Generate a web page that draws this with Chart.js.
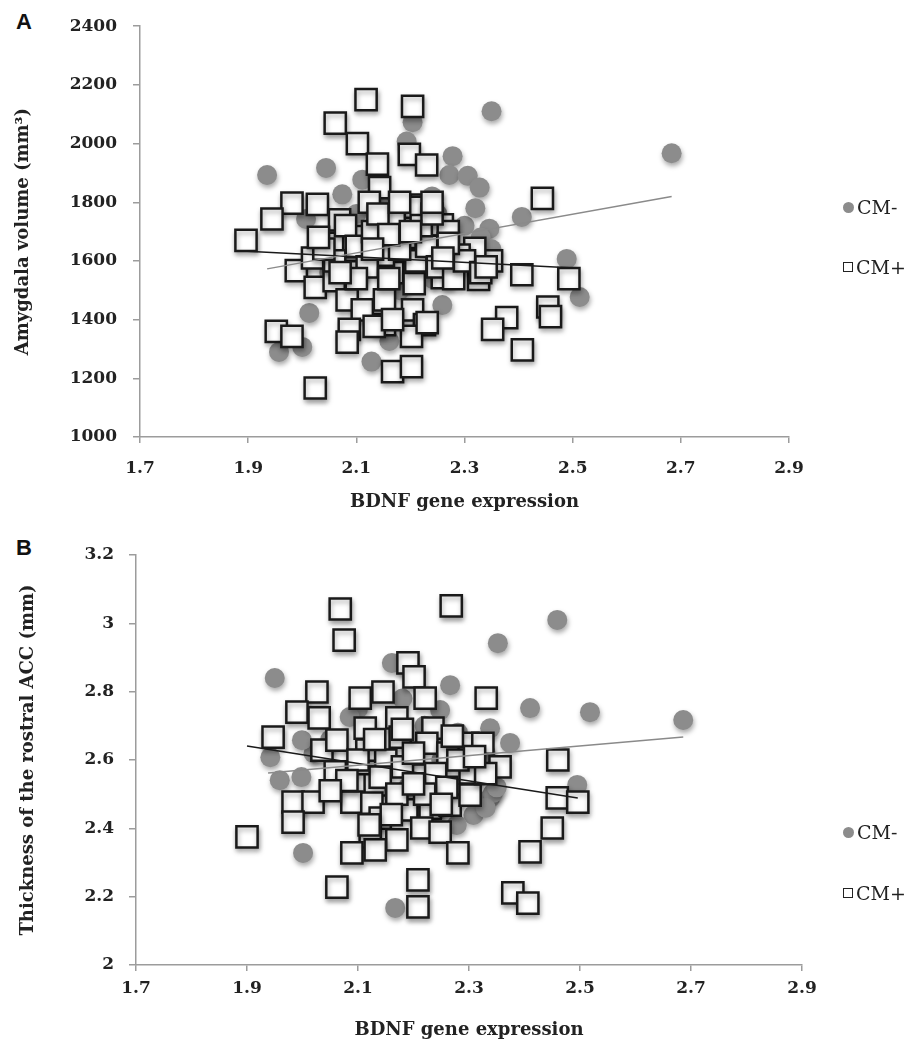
<!DOCTYPE html>
<html>
<head>
<meta charset="utf-8">
<script src="https://cdn.jsdelivr.net/npm/chart.js@4.4.1/dist/chart.umd.min.js"></script>
<style>
  html, body { margin: 0; padding: 0; background: #fff; }
  body { width: 904px; height: 1045px; position: relative; overflow: hidden; }
  canvas { position: absolute; left: 0; }
  #chartA { top: 0; }
  #chartB { top: 520px; }
  .panel { position: absolute; left: 16px; font: bold 22px "Liberation Sans", Arial, sans-serif; color: #111; line-height: 24px; }
  .legend-item { position: absolute; left: 843px; height: 24px; display: flex; align-items: center;
                 font: 19px "DejaVu Serif", serif; color: #222; white-space: nowrap; }
  .dot { width: 11px; height: 11px; border-radius: 50%; background: #8c8c8c; margin-right: 3px; }
  .box { width: 8px; height: 8px; border: 1.5px solid #222; background: #fff; margin-right: 3px; }
</style>
</head>
<body>
<div class="panel" style="top:10px">A</div>
<div class="panel" style="top:536px">B</div>
<canvas id="chartA" width="904" height="520"></canvas>
<canvas id="chartB" width="904" height="525"></canvas>
<div id="legendA"></div>
<div id="legendB"></div>
<script>
const groups = ['CM-', 'CM+'];
const xTicks = [1.7, 1.9, 2.1, 2.3, 2.5, 2.7, 2.9];

// panel A: amygdala volume
const amyTicks = [1000, 1200, 1400, 1600, 1800, 2000, 2200, 2400];
const amyPlusX = [
  2.118, 2.204, 2.061, 2.102, 2.198, 2.139, 2.230, 1.981, 2.028, 1.944,
  1.896, 2.444, 2.406, 2.493, 2.454, 2.459, 2.378, 2.352, 2.407, 2.167,
  2.207, 2.259, 2.326, 2.350, 2.319, 2.259, 2.220, 2.204, 2.226, 2.202,
  2.167, 2.202, 2.152, 1.989, 2.024, 2.098, 2.059, 2.083, 2.111, 2.152,
  1.952, 1.981, 2.087, 2.083, 2.133, 2.167, 2.231, 2.024, 2.143, 2.124,
  2.069, 2.111, 2.056, 2.019, 2.204, 2.080, 2.100, 2.130, 2.150, 2.170,
  2.190, 2.210, 2.230, 2.250, 2.270, 2.290, 2.120, 2.160, 2.180, 2.220,
  2.240, 2.060, 2.040, 2.280, 2.300, 2.140, 2.180, 2.100, 2.330, 2.340,
  2.240, 2.160, 2.270, 2.030, 2.200, 2.260, 2.130, 2.070
];
const amyPlusY = [
  2150, 2127, 2070, 2000, 1963, 1930, 1927, 1797, 1793, 1743,
  1670, 1813, 1553, 1540, 1443, 1410, 1407, 1367, 1297, 1560,
  1523, 1543, 1537, 1600, 1643, 1723, 1790, 1433, 1383, 1343,
  1223, 1240, 1383, 1567, 1510, 1563, 1533, 1467, 1433, 1467,
  1360, 1343, 1367, 1323, 1377, 1400, 1390, 1167, 1850, 1800,
  1740, 1683, 1660, 1610, 1783, 1720, 1650, 1700, 1620, 1750,
  1680, 1600, 1650, 1580, 1700, 1620, 1580, 1540, 1640, 1720,
  1760, 1600, 1640, 1540, 1600, 1760, 1800, 1540, 1560, 1580,
  1800, 1690, 1660, 1680, 1700, 1610, 1640, 1560
];
const amyMinusX = [
  1.935, 2.044, 2.111, 2.074, 2.007, 2.204, 2.193, 2.350, 2.683, 2.278,
  2.272, 2.306, 2.328, 2.406, 2.346, 2.489, 2.513, 2.259, 2.013, 1.957,
  2.000, 2.128, 2.161, 2.170, 2.200, 2.220, 2.150, 2.250, 2.270, 2.300,
  2.330, 2.120, 2.080, 2.050, 2.180, 2.240, 2.280, 2.350, 2.100, 2.140,
  2.320, 2.240, 2.200
];
const amyMinusY = [
  1893, 1917, 1877, 1827, 1743, 2073, 2007, 2110, 1967, 1957,
  1893, 1890, 1850, 1750, 1710, 1607, 1477, 1450, 1423, 1290,
  1307, 1257, 1327, 1620, 1580, 1680, 1700, 1760, 1640, 1720,
  1680, 1660, 1600, 1560, 1500, 1540, 1560, 1640, 1760, 1810,
  1780, 1820, 1660
];
const amyMinusFitX = [1.935, 2.683];
const amyMinusFitY = [1573, 1820];
const amyPlusFitX = [1.898, 2.494];
const amyPlusFitY = [1633, 1577];

// panel B: rostral ACC thickness
const accTicks = [2, 2.2, 2.4, 2.6, 2.8, 3, 3.2];
const accPlusX = [
  2.068, 2.268, 2.075, 2.190, 2.201, 2.026, 2.104, 2.145, 2.221, 2.331,
  1.990, 2.030, 2.170, 1.947, 2.113, 2.235, 2.035, 2.116, 2.224, 2.298,
  2.325, 2.262, 2.062, 2.176, 2.356, 2.302, 2.059, 2.100, 2.131, 2.212,
  1.983, 2.019, 2.089, 2.125, 2.188, 2.230, 2.266, 2.302, 1.983, 2.140,
  2.215, 2.248, 1.900, 2.122, 2.170, 2.089, 2.131, 2.280, 2.062, 2.208,
  2.208, 2.379, 2.406, 2.410, 2.450, 2.460, 2.459, 2.496, 2.150, 2.180,
  2.200, 2.240, 2.260, 2.280, 2.140, 2.170, 2.220, 2.100, 2.080, 2.330,
  2.180, 2.250, 2.130, 2.270, 2.050, 2.200, 2.160, 2.310, 2.120
];
const accPlusY = [
  3.042, 3.051, 2.951, 2.884, 2.843, 2.799, 2.781, 2.799, 2.781, 2.781,
  2.740, 2.723, 2.723, 2.667, 2.693, 2.693, 2.629, 2.629, 2.649, 2.649,
  2.649, 2.620, 2.658, 2.667, 2.580, 2.562, 2.565, 2.527, 2.527, 2.556,
  2.477, 2.477, 2.477, 2.474, 2.454, 2.459, 2.468, 2.497, 2.418, 2.430,
  2.401, 2.389, 2.375, 2.375, 2.366, 2.328, 2.337, 2.328, 2.228, 2.249,
  2.170, 2.211, 2.181, 2.331, 2.401, 2.600, 2.489, 2.477, 2.600, 2.580,
  2.620, 2.560, 2.520, 2.600, 2.550, 2.500, 2.500, 2.600, 2.540, 2.560,
  2.690, 2.470, 2.660, 2.670, 2.510, 2.530, 2.440, 2.610, 2.410
];
const accMinusX = [
  2.459, 2.352, 1.950, 2.161, 2.266, 2.338, 2.410, 2.518, 2.686, 2.495,
  2.167, 2.001, 1.959, 1.998, 2.338, 2.308, 2.278, 1.942, 2.343, 2.330,
  2.220, 2.150, 2.250, 2.300, 2.350, 2.190, 2.120, 2.280, 2.100, 2.330,
  2.050, 2.020, 2.240, 2.180, 2.200, 2.248, 2.085, 2.374, 1.999
];
const accMinusY = [
  3.010, 2.942, 2.840, 2.884, 2.819, 2.693, 2.752, 2.740, 2.717, 2.527,
  2.167, 2.328, 2.541, 2.550, 2.489, 2.439, 2.410, 2.608, 2.503, 2.460,
  2.700, 2.600, 2.600, 2.550, 2.520, 2.520, 2.640, 2.680, 2.750, 2.620,
  2.660, 2.620, 2.450, 2.780, 2.450, 2.746, 2.726, 2.650, 2.658
];
const accMinusFitX = [1.938, 2.686];
const accMinusFitY = [2.562, 2.667];
const accPlusFitX = [1.900, 2.496];
const accPlusFitY = [2.641, 2.489];

const zip = (xs, ys) => xs.map((x, i) => ({ x: x, y: ys[i] }));
const fmt = v => String(+v.toFixed(2));
const axisGrey = '#9c9c9c';
const inkColor = '#222';
const serifBold = size => ({ family: 'DejaVu Serif', weight: 'bold', size: size });

// soft drop shadow under the markers, like the original spreadsheet chart
const markerShadow = {
  id: 'markerShadow',
  beforeDatasetDraw(chart, args) {
    if (chart.data.datasets[args.index].showLine) return;
    const ctx = chart.ctx;
    ctx.save();
    ctx.shadowColor = 'rgba(0,0,0,0.35)';
    ctx.shadowBlur = 5;
    ctx.shadowOffsetX = 1;
    ctx.shadowOffsetY = 3;
  },
  afterDatasetDraw(chart, args) {
    if (chart.data.datasets[args.index].showLine) return;
    chart.ctx.restore();
  }
};

function scatterPanel(id, p) {
  return new Chart(document.getElementById(id), {
    type: 'scatter',
    data: {
      datasets: [
        { label: groups[0] + ' trend', data: zip(p.minusFitX, p.minusFitY), showLine: true,
          borderColor: '#8a8a8a', borderWidth: 1.5, pointRadius: 0, order: 0 },
        { label: groups[1] + ' trend', data: zip(p.plusFitX, p.plusFitY), showLine: true,
          borderColor: '#1a1a1a', borderWidth: 1.5, pointRadius: 0, order: 0 },
        { label: groups[1], data: zip(p.plusX, p.plusY), pointStyle: 'rect', pointRadius: 15,
          pointBackgroundColor: '#fff', pointBorderColor: '#1a1a1a', pointBorderWidth: 2.5, order: 1 },
        { label: groups[0], data: zip(p.minusX, p.minusY), pointStyle: 'circle', pointRadius: 10,
          pointBackgroundColor: '#8c8c8c', pointBorderWidth: 0, order: 2 }
      ]
    },
    options: {
      responsive: false,
      animation: false,
      events: [],
      layout: { padding: { top: p.top, right: p.right, left: 0, bottom: 0 } },
      plugins: { legend: { display: false }, tooltip: { enabled: false } },
      scales: {
        x: {
          type: 'linear', min: xTicks[0], max: xTicks[xTicks.length - 1],
          afterBuildTicks: s => { s.ticks = xTicks.map(v => ({ value: v })); },
          afterFit: s => { s.height = p.xHeight; },
          grid: { drawOnChartArea: false, tickLength: 6, color: axisGrey, lineWidth: 1.5 },
          border: { color: axisGrey, width: 1.5 },
          ticks: { padding: p.xPad, color: inkColor, font: serifBold(p.tickSize), maxRotation: 0, callback: fmt },
          title: { display: true, text: 'BDNF gene expression', color: inkColor, font: serifBold(18),
                   padding: { top: 0, bottom: p.xTitlePad } }
        },
        y: {
          type: 'linear', min: p.yTicks[0], max: p.yTicks[p.yTicks.length - 1],
          afterBuildTicks: s => { s.ticks = p.yTicks.map(v => ({ value: v })); },
          afterFit: s => { s.width = p.yWidth; },
          grid: { drawOnChartArea: false, tickLength: 7, color: axisGrey, lineWidth: 1.5 },
          border: { color: axisGrey, width: 1.5 },
          ticks: { padding: p.yPad, color: inkColor, font: serifBold(p.tickSize), callback: fmt },
          title: { display: true, text: p.yTitle, color: inkColor, font: serifBold(18),
                   padding: { top: p.yTitlePad, bottom: 0 } }
        }
      }
    },
    plugins: [markerShadow]
  });
}

scatterPanel('chartA', {
  minusX: amyMinusX, minusY: amyMinusY, plusX: amyPlusX, plusY: amyPlusY,
  minusFitX: amyMinusFitX, minusFitY: amyMinusFitY, plusFitX: amyPlusFitX, plusFitY: amyPlusFitY,
  yTicks: amyTicks, yTitle: 'Amygdala volume (mm³)',
  top: 15, right: 115, xHeight: 83, yWidth: 140,
  tickSize: 17, xPad: 15, yPad: 16, xTitlePad: 7, yTitlePad: 13
});

scatterPanel('chartB', {
  minusX: accMinusX, minusY: accMinusY, plusX: accPlusX, plusY: accPlusY,
  minusFitX: accMinusFitX, minusFitY: accMinusFitY, plusFitX: accPlusFitX, plusFitY: accPlusFitY,
  yTicks: accTicks, yTitle: 'Thickness of the rostral ACC (mm)',
  top: 35, right: 102, xHeight: 80, yWidth: 136,
  tickSize: 17, xPad: 7, yPad: 15, xTitlePad: 4, yTitlePad: 18
});

// legends, one per panel
function buildLegend(id, centers) {
  const holder = document.getElementById(id);
  groups.forEach((name, i) => {
    const item = document.createElement('div');
    item.className = 'legend-item';
    item.style.top = (centers[i] - 12) + 'px';
    const mark = document.createElement('span');
    mark.className = i === 0 ? 'dot' : 'box';
    item.appendChild(mark);
    item.appendChild(document.createTextNode(name));
    holder.appendChild(item);
  });
}
buildLegend('legendA', [207, 267]);
buildLegend('legendB', [832, 893]);
</script>
</body>
</html>
